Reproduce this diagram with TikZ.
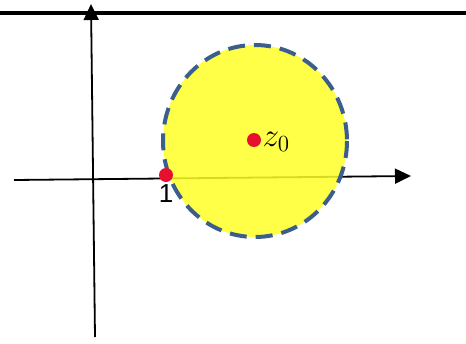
\documentclass[tikz,border=0pt]{standalone}
\usepackage{fontspec}
\setmainfont{Liberation Sans}
\usepackage{amsmath}
\usepackage{graphicx}
\usepackage{tikz}
\usetikzlibrary{arrows.meta}

\definecolor{discblue}{RGB}{59,94,140}
\definecolor{dotred}{RGB}{232,17,45}
\definecolor{discyellow}{RGB}{255,255,40}

\tikzset{
  axis/.style={line width=1.8pt, -{Triangle[length=16pt,width=15pt]}},
  dot/.style={circle, fill=dotred, inner sep=0pt, minimum size=14pt},
}

\begin{document}
\begin{tikzpicture}[x=1pt, y=-1pt]
  \useasboundingbox (0,0) rectangle (466,343);
  \draw[line width=4pt] (0,13) -- (466,13);

  \coordinate (xl) at (14,180);
  \coordinate (xr) at (411,176);
  \coordinate (yb) at (95,337);
  \coordinate (yt) at (91,4);
  \draw[axis] (xl) -- (xr);
  \draw[axis] (yb) -- (yt);

  \fill[discyellow, opacity=0.85] (255,141) ellipse (92 and 96);
  \draw[discblue, line width=4pt, dash pattern=on 17pt off 9pt] (255,141) ellipse (92 and 96);

  \node[dot] (one) at (166,175) {};
  \node[dot] (zn) at (254,140) {};
  \node[below=-1pt] at (one.south) {\fontsize{26}{26}\selectfont 1};
  \node[right=-2pt, yshift=-2pt] at (zn.east)
    {\fontsize{20}{20}\selectfont\scalebox{1.6}{$z_0$}};
\end{tikzpicture}
\end{document}
